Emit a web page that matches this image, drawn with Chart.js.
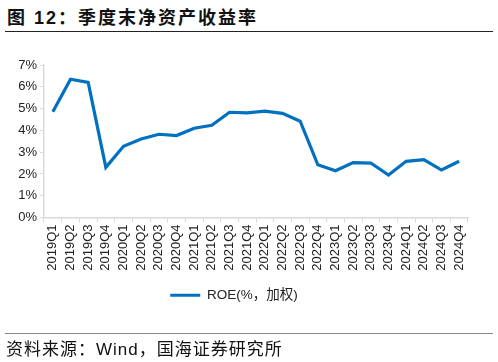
<!DOCTYPE html>
<html lang="zh">
<head>
<meta charset="UTF-8">
<title>季度末净资产收益率</title>
<script src="https://cdn.jsdelivr.net/npm/chart.js@4.4.0/dist/chart.umd.min.js"></script>
<style>
    * { margin: 0; padding: 0; box-sizing: border-box; }
    body { width: 498px; height: 362px; background: #fff; position: relative; overflow: hidden;
           font-family: "Liberation Sans", "Noto Sans CJK SC", sans-serif; }
    .title { position: absolute; left: 7px; top: 3px; font-size: 18px; font-weight: bold; color: #111; letter-spacing: 2px; }
    .rule-top { position: absolute; left: 5px; right: 5px; top: 31px; height: 1px; background: #222; }
    .rule-bottom { position: absolute; left: 5px; right: 5px; top: 333px; height: 1px; background: #888; }
    .source { position: absolute; left: 6px; top: 335px; font-size: 17px; color: #111; letter-spacing: 1px; }
    #wrap { position: absolute; left: 0; top: 0; width: 498px; height: 362px; }
</style>
</head>
<body>
<div class="title">图 12：季度末净资产收益率</div>
<div class="rule-top"></div>
<div id="wrap"><canvas id="roeChart"></canvas></div>
<div class="rule-bottom"></div>
<div class="source">资料来源：Wind，国海证券研究所</div>

<script>
    const quarters = ['2019Q1', '2019Q2', '2019Q3', '2019Q4', '2020Q1', '2020Q2', '2020Q3', '2020Q4',
        '2021Q1', '2021Q2', '2021Q3', '2021Q4', '2022Q1', '2022Q2', '2022Q3', '2022Q4',
        '2023Q1', '2023Q2', '2023Q3', '2023Q4', '2024Q1', '2024Q2', '2024Q3', '2024Q4'];
    const roe = [4.85, 6.35, 6.2, 2.3, 3.27, 3.6, 3.82, 3.76,
        4.1, 4.23, 4.83, 4.8, 4.88, 4.78, 4.42, 2.42,
        2.15, 2.52, 2.5, 1.95, 2.58, 2.66, 2.18, 2.58];
    const yTicks = [0, 1, 2, 3, 4, 5, 6, 7];
    const seriesName = 'ROE(%，加权)';

    const font = "'Liberation Sans', 'Noto Sans CJK SC', sans-serif";
    const axisGrey = '#d9d9d9';

    new Chart(document.getElementById('roeChart'), {
        type: 'line',
        data: {
            labels: quarters,
            datasets: [{
                label: seriesName,
                data: roe,
                borderColor: '#0070c0',
                backgroundColor: '#0070c0',
                borderWidth: 3.2,
                pointRadius: 0,
                tension: 0
            }]
        },
        options: {
            responsive: true,
            maintainAspectRatio: false,
            animation: false,
            layout: { padding: { left: 0, right: 30, top: 65, bottom: 50 } },
            plugins: {
                tooltip: { enabled: false },
                legend: {
                    position: 'bottom',
                    labels: {
                        usePointStyle: true,
                        pointStyle: 'line',
                        pointStyleWidth: 30,
                        color: '#222',
                        font: { family: font, size: 13.5 },
                        padding: 7
                    }
                }
            },
            scales: {
                x: {
                    offset: true,
                    grid: {
                        display: true,
                        drawOnChartArea: false,
                        offset: true,
                        color: axisGrey,
                        tickLength: 5
                    },
                    border: { color: axisGrey, width: 1.5 },
                    ticks: {
                        maxRotation: 90,
                        minRotation: 90,
                        autoSkip: false,
                        color: '#222',
                        padding: 2,
                        font: { family: font, size: 13 }
                    },
                    afterFit: s => { s.height = 64; }
                },
                y: {
                    min: 0,
                    max: 7,
                    afterBuildTicks: s => { s.ticks = yTicks.map(v => ({ value: v })); },
                    grid: {
                        display: true,
                        drawOnChartArea: false,
                        color: axisGrey,
                        tickLength: 4
                    },
                    border: { color: axisGrey, width: 1.5 },
                    ticks: {
                        color: '#222',
                        padding: 3,
                        font: { family: font, size: 13 },
                        callback: v => v + '%'
                    },
                    afterFit: s => { s.width = 44; }
                }
            }
        }
    });
</script>
</body>
</html>
